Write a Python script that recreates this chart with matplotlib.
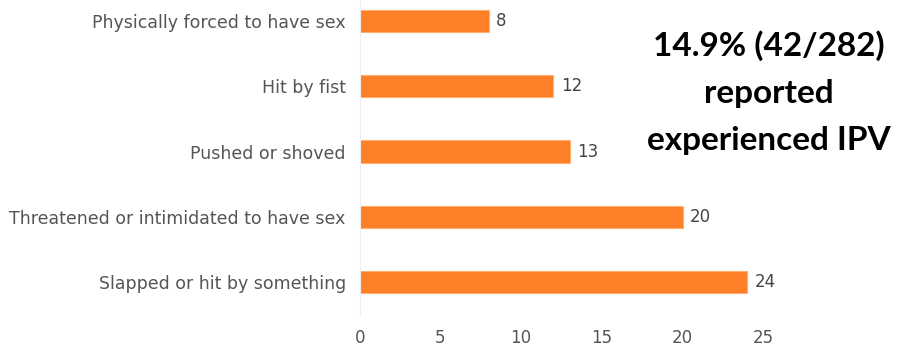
import matplotlib
matplotlib.use('Agg')
import matplotlib.pyplot as plt

categories = ['Slapped or hit by something',
              'Threatened or intimidated to have sex',
              'Pushed or shoved',
              'Hit by fist',
              'Physically forced to have sex']
values = [24, 20, 13, 12, 8]
xticks = [0, 5, 10, 15, 20, 25]
note = '14.9% (42/282)\nreported\nexperienced IPV'

fig = plt.figure(figsize=(8.97, 3.46), dpi=100)
ax = fig.add_axes([0.401, 0.09, 0.45, 0.91])

pos = range(len(categories))
ax.barh(pos, values, height=0.34, color='#fd7f28', edgecolor='#ffb070', linewidth=0.8)
for p, v in zip(pos, values):
    ax.text(v + 0.45, p, str(v), va='center', ha='left', fontsize=12, color='#444444')

ax.set_xlim(0, 25)
ax.set_ylim(-0.5, 4.32)
ax.set_xticks(xticks)
ax.set_yticks(list(pos))
ax.set_yticklabels(categories)
ax.tick_params(axis='both', length=0, labelsize=12.5, colors='#555555')
ax.tick_params(axis='x', labelsize=12, pad=10)
ax.tick_params(axis='y', pad=10)
for s in ['top', 'right', 'bottom']:
    ax.spines[s].set_visible(False)
ax.spines['left'].set_color('#eeeeee')

fig.text(0.857, 0.912, note, ha='center', va='top', fontsize=24, fontweight='bold',
         family='Lato', color='black', linespacing=1.75)

fig.savefig('out.png', dpi=100)
